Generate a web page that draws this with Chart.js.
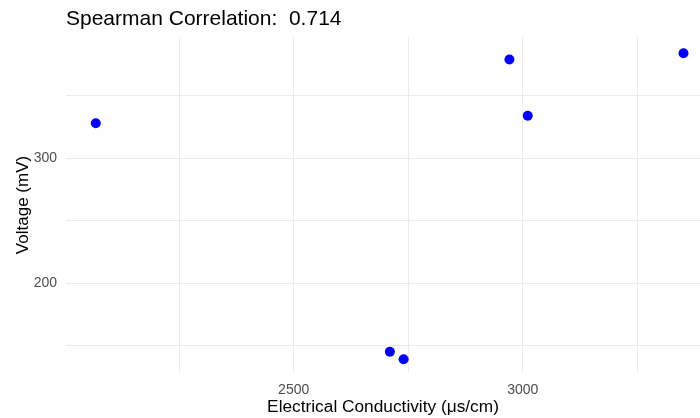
<!DOCTYPE html>
<html>
<head>
<meta charset="utf-8">
<script src="https://cdn.jsdelivr.net/npm/chart.js@4.4.0/dist/chart.umd.min.js"></script>
<style>
  html, body { margin: 0; padding: 0; background: #ffffff; overflow: hidden; }
  #wrap { width: 700px; height: 418px; }
</style>
</head>
<body>
<div id="wrap"><canvas id="c" width="700" height="418"></canvas></div>
<script>
// ---- data ----
const conductivity = [2068, 2710, 2740, 2971, 3011, 3351];   // µs/cm
const voltage      = [328, 145, 139, 379, 334, 384];          // mV

const xGridValues  = [2250, 2500, 2750, 3000, 3250];
const xTickLabels  = [2500, 3000];
const yGridValues  = [150, 200, 250, 300, 350];
const yTickLabels  = [200, 300];

const titleText  = "Spearman Correlation:  0.714";
const xAxisTitle = "Electrical Conductivity (\u03bcs/cm)";
const yAxisTitle = "Voltage (mV)";

const points = conductivity.map((x, i) => ({ x: x, y: voltage[i] }));

const FONT = "'Liberation Sans', Arial, sans-serif";

const titleShift = {
  id: 'titleShift',
  afterLayout(chart) {
    const t = chart.titleBlock;
    if (t) { t.left = chart.chartArea.left; }
  }
};

new Chart(document.getElementById('c'), {
  type: 'scatter',
  data: {
    datasets: [{
      data: points,
      backgroundColor: '#0000FF',
      borderWidth: 0,
      pointRadius: 5,
      pointHoverRadius: 5
    }]
  },
  options: {
    responsive: false,
    animation: false,
    layout: { padding: 0, autoPadding: false },
    plugins: {
      legend: { display: false },
      tooltip: { enabled: false },
      title: {
        display: true,
        text: titleText,
        align: 'start',
        color: '#000000',
        font: { family: FONT, size: 21, weight: 'normal' },
        padding: { top: 6.5, bottom: 5.3 }
      }
    },
    scales: {
      x: {
        type: 'linear',
        min: 2003,
        max: 3387,
        afterFit(s) { s.height = 45; },
        afterBuildTicks(s) { s.ticks = xGridValues.map(v => ({ value: v })); },
        grid: { color: '#ebebeb', lineWidth: 1, drawTicks: false },
        border: { display: false },
        ticks: {
          color: '#4d4d4d',
          padding: 9,
          maxRotation: 0,
          autoSkip: false,
          font: { family: FONT, size: 14 },
          callback: (v) => xTickLabels.includes(v) ? String(v) : ''
        },
        title: {
          display: true,
          text: xAxisTitle,
          color: '#000000',
          font: { family: FONT, size: 17.3 },
          padding: { top: 0, bottom: 0 }
        }
      },
      y: {
        type: 'linear',
        min: 128,
        max: 397,
        afterFit(s) { s.width = 66; },
        afterBuildTicks(s) { s.ticks = yGridValues.map(v => ({ value: v })); },
        grid: { color: '#ebebeb', lineWidth: 1, drawTicks: false },
        border: { display: false },
        ticks: {
          color: '#4d4d4d',
          padding: 9,
          autoSkip: false,
          font: { family: FONT, size: 14 },
          callback: (v) => yTickLabels.includes(v) ? String(v) : ''
        },
        title: {
          display: true,
          text: yAxisTitle,
          color: '#000000',
          font: { family: FONT, size: 17 },
          padding: { top: 13, bottom: 0 }
        }
      }
    }
  },
  plugins: [titleShift]
});
</script>
</body>
</html>
